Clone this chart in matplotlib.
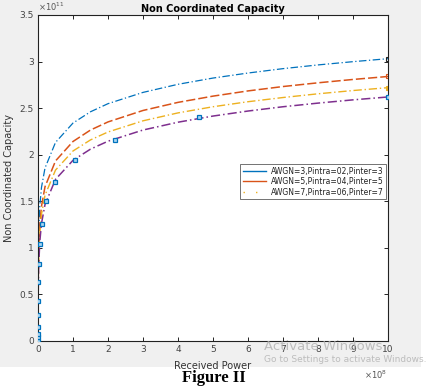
import numpy as np
import matplotlib
matplotlib.use("Agg")
import matplotlib.pyplot as plt
from matplotlib.lines import Line2D
from matplotlib.patches import Rectangle

# received power (x 1e8) and capacity (x 1e11)
power = [0, 0.0002, 0.0005, 0.001, 0.002, 0.005, 0.01, 0.02, 0.05, 0.1, 0.2, 0.5,
         1, 1.5, 2, 3, 4, 5, 6, 7, 8, 9, 10]
cap_awgn3 = [0, 0.119, 0.239, 0.370, 0.531, 0.774, 0.970, 1.172, 1.443, 1.650, 1.857, 2.132,
             2.340, 2.461, 2.548, 2.669, 2.756, 2.823, 2.877, 2.924, 2.964, 2.999, 3.031]
cap_awgn5 = [0, 0.064, 0.140, 0.236, 0.366, 0.584, 0.772, 0.970, 1.240, 1.447, 1.656, 1.933,
             2.142, 2.265, 2.352, 2.475, 2.562, 2.629, 2.685, 2.732, 2.772, 2.808, 2.840]
cap_awgn7 = [0, 0.053, 0.119, 0.203, 0.322, 0.527, 0.706, 0.897, 1.159, 1.361, 1.565, 1.835,
             2.040, 2.159, 2.244, 2.364, 2.449, 2.515, 2.569, 2.614, 2.654, 2.689, 2.720]
cap_awgn9 = [0, 0.039, 0.089, 0.158, 0.260, 0.446, 0.616, 0.803, 1.061, 1.262, 1.465, 1.735,
             1.940, 2.060, 2.145, 2.265, 2.349, 2.415, 2.469, 2.515, 2.554, 2.589, 2.620]

# square markers sitting on the lowest curve
mark_power = [0, 0.0002, 0.00046, 0.001, 0.0022, 0.0046, 0.01, 0.022, 0.046, 0.1, 0.22,
              0.48, 1.05, 2.2, 4.6, 10]
mark_cap = [0, 0.04, 0.08, 0.15, 0.28, 0.43, 0.63, 0.83, 1.04, 1.26, 1.50, 1.71, 1.94,
            2.16, 2.40, 2.62]

labels = ["AWGN=3,Pintra=02,Pinter=3",
          "AWGN=5,Pintra=04,Pinter=5",
          "AWGN=7,Pintra=06,Pinter=7"]
colors = ["#0072BD", "#D95319", "#EDB120", "#7E2F8E"]
xticks = [0, 1, 2, 3, 4, 5, 6, 7, 8, 9, 10]
yticks = [0, 0.5, 1, 1.5, 2, 2.5, 3, 3.5]

fig = plt.figure(figsize=(4.29, 3.88), dpi=100)
fig.patch.set_facecolor("white")
# MATLAB grey figure window
fig.patches.append(Rectangle((0, 1 - 367 / 388), 421 / 429, 367 / 388,
                             transform=fig.transFigure, facecolor="#f0f0f0",
                             edgecolor="none", zorder=-10))

ax = fig.add_axes([38 / 429, 1 - 341 / 388, 350 / 429, 326 / 388])
ax.set_facecolor("white")

ax.plot(power, cap_awgn3, color=colors[0], ls=(0, (6, 2, 1, 2)), lw=0.9)
ax.plot(power, cap_awgn5, color=colors[1], ls=(0, (6, 2)), lw=1.1)
ax.plot(power, cap_awgn7, color=colors[2], ls=(0, (6, 2, 1, 2)), lw=1.0)
ax.plot(power, cap_awgn9, color=colors[3], ls=(0, (6, 2, 1, 2)), lw=1.1)
# end-point markers (clipped by the box)
ax.plot(power[-1:], cap_awgn3[-1:], "s", ms=3, mfc="none", mec="#222222", mew=0.8)
ax.plot(power[-1:], cap_awgn5[-1:], "s", ms=3, mfc="none", mec=colors[1], mew=0.8)
ax.plot(power[-1:], cap_awgn7[-1:], "s", ms=3, mfc=colors[2], mec=colors[2], mew=0.8)
ax.plot(mark_power, mark_cap, "s", ms=3.5, mfc="#a9d6f2", mec="#0072BD", mew=0.9,
        ls="none", zorder=5)

ax.set_xlim(0, 10)
ax.set_ylim(0, 3.5)
ax.set_xticks(xticks)
ax.set_yticks(yticks)
ax.set_xticklabels([str(t) for t in xticks])
ax.set_yticklabels([f"{t:g}" for t in yticks])
ax.tick_params(direction="in", length=3, width=0.6, top=True, right=True,
               labelsize=6.5, labelcolor="#444444", pad=3)
for s in ax.spines.values():
    s.set_linewidth(0.8)
    s.set_color("#222222")

ax.set_title("Non Coordinated Capacity", fontsize=7, fontweight="bold", pad=2.5)
ax.set_xlabel("Received Power", fontsize=7, color="#333333", labelpad=5)
ax.set_ylabel("Non Coordinated Capacity", fontsize=7, color="#333333", labelpad=4)
ax.text(0.0, 1.005, r"$\times10^{11}$", transform=ax.transAxes, fontsize=6,
        color="#555555", ha="left", va="bottom")
ax.text(0.93, -0.085, r"$\times10^{8}$", transform=ax.transAxes, fontsize=6,
        color="#555555", ha="left", va="top")

handles = [Line2D([], [], color=colors[0], lw=1.0),
           Line2D([], [], color=colors[1], lw=1.0),
           Line2D([], [], color=colors[2], lw=1.0, ls=(0, (1, 8)))]
leg = ax.legend(handles, labels, loc="upper left", bbox_to_anchor=(0.567, 0.555),
                fontsize=5.5, frameon=True, fancybox=False, borderpad=0.35,
                handlelength=3.0, labelspacing=0.2, handletextpad=0.6)
leg.get_frame().set_edgecolor("#333333")
leg.get_frame().set_linewidth(0.6)
for t in leg.get_texts():
    t.set_color("#222222")

# screenshot watermark
fig.text(264 / 429, 1 - 346 / 388, "Activate Windows", fontsize=9.5, color="#b0b0b0",
         alpha=0.8, va="center")
fig.text(264 / 429, 1 - 359 / 388, "Go to Settings to activate Windows.", fontsize=6.5,
         color="#b0b0b0", alpha=0.8, va="center")

fig.text(214 / 429, 1 - 378 / 388, "Figure II", fontsize=12, fontweight="bold",
         family="Liberation Serif", ha="center", va="center")

fig.savefig("out.png", dpi=100)
